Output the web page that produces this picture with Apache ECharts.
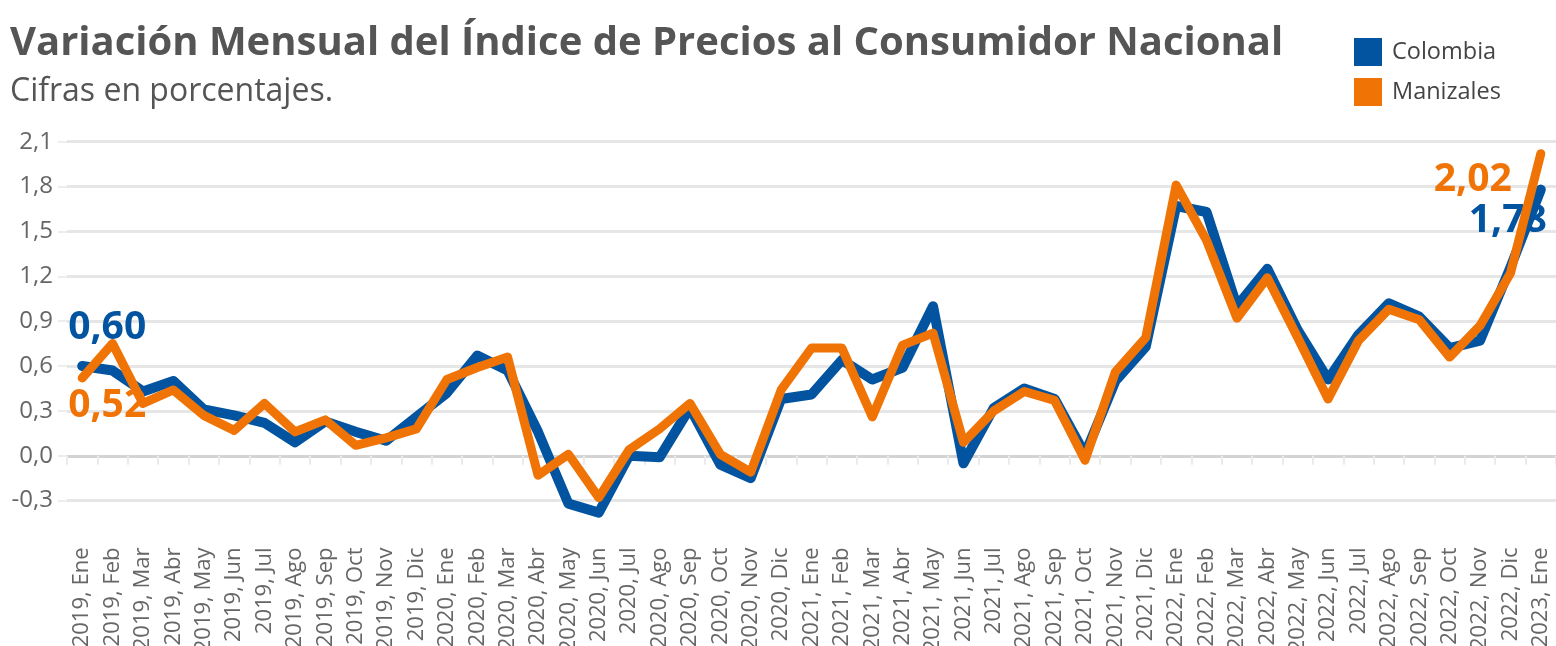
<!DOCTYPE html>
<html>
<head>
<meta charset="utf-8">
<script src="https://cdn.jsdelivr.net/npm/echarts@6/dist/echarts.min.js"></script>
<style>
html,body{margin:0;padding:0;background:#fff;}
#chart{width:1556px;height:646px;}
</style>
</head>
<body>
<div id="chart"></div>
<script>
const categories = [
  "2019, Ene","2019, Feb","2019, Mar","2019, Abr","2019, May","2019, Jun","2019, Jul","2019, Ago","2019, Sep","2019, Oct","2019, Nov","2019, Dic",
  "2020, Ene","2020, Feb","2020, Mar","2020, Abr","2020, May","2020, Jun","2020, Jul","2020, Ago","2020, Sep","2020, Oct","2020, Nov","2020, Dic",
  "2021, Ene","2021, Feb","2021, Mar","2021, Abr","2021, May","2021, Jun","2021, Jul","2021, Ago","2021, Sep","2021, Oct","2021, Nov","2021, Dic",
  "2022, Ene","2022, Feb","2022, Mar","2022, Abr","2022, May","2022, Jun","2022, Jul","2022, Ago","2022, Sep","2022, Oct","2022, Nov","2022, Dic",
  "2023, Ene"
];
const colombia = [
  0.60, 0.57, 0.43, 0.50, 0.31, 0.27, 0.22, 0.09, 0.23, 0.16, 0.10, 0.26,
  0.42, 0.67, 0.57, 0.16, -0.32, -0.38, 0.00, -0.01, 0.32, -0.06, -0.15, 0.38,
  0.41, 0.64, 0.51, 0.59, 1.00, -0.05, 0.32, 0.45, 0.38, 0.01, 0.50, 0.73,
  1.67, 1.63, 1.00, 1.25, 0.84, 0.51, 0.81, 1.02, 0.93, 0.72, 0.77, 1.26,
  1.78
];
const manizales = [
  0.52, 0.75, 0.35, 0.44, 0.27, 0.17, 0.35, 0.16, 0.24, 0.07, 0.12, 0.18,
  0.51, 0.59, 0.66, -0.13, 0.01, -0.28, 0.04, 0.18, 0.35, 0.01, -0.11, 0.44,
  0.72, 0.72, 0.26, 0.74, 0.82, 0.09, 0.30, 0.43, 0.37, -0.03, 0.56, 0.79,
  1.81, 1.44, 0.92, 1.19, 0.79, 0.38, 0.77, 0.98, 0.91, 0.66, 0.87, 1.22,
  2.02
];
const yTicks = [-0.3, 0.0, 0.3, 0.6, 0.9, 1.2, 1.5, 1.8, 2.1];
const seriesNames = ["Colombia", "Manizales"];
const titleText = "Variación Mensual del Índice de Precios al Consumidor Nacional";
const subtitleText = "Cifras en porcentajes.";

const BLUE = "#0254A1";
const ORANGE = "#F07306";
const FONT = "'Open Sans', 'Noto Sans', sans-serif";
const fmt = v => v.toFixed(2).replace('.', ',');
const gridColors = yTicks.map(v => Math.abs(v) < 1e-9 ? '#d3d3d3' : '#e6e6e6');

const chart = echarts.init(document.getElementById('chart'), null, {renderer: 'canvas'});
const last = categories.length - 1;
const option = {
  animation: false,
  backgroundColor: '#fff',
  textStyle: {fontFamily: FONT},
  graphic: [
    {type: 'text', left: 10, top: 24, style: {text: titleText, font: "bold 40px " + FONT, fill: '#555555'}},
    {type: 'text', left: 10, top: 76, style: {text: subtitleText, font: "32px " + FONT, fill: '#555555'}}
  ],
  legend: {
    orient: 'vertical', left: 1354, top: 38, padding: 0,
    itemWidth: 28, itemHeight: 28, itemGap: 12, icon: 'rect',
    data: seriesNames,
    textStyle: {fontSize: 23.5, color: '#444444', fontFamily: FONT, padding: [4, 0, 0, 5]}
  },
  grid: {left: 67, right: 0, top: 141.7, bottom: 100.5, containLabel: false, outerBoundsMode: 'none'},
  xAxis: {
    type: 'category', data: categories, boundaryGap: true, offset: -9,
    axisLine: {show: false},
    axisTick: {show: true, length: 9, lineStyle: {color: '#ebebeb', width: 2}},
    axisLabel: {rotate: 90, margin: 11, fontSize: 22, color: '#666666', fontFamily: FONT, interval: 0}
  },
  yAxis: {
    type: 'value', min: -0.6, max: 2.1, interval: 0.3,
    axisLine: {show: false},
    axisTick: {show: true, length: 9, lineStyle: {color: '#eeeeee', width: 2}},
    axisLabel: {
      showMinLabel: false, margin: 14, fontSize: 24, color: '#666666', fontFamily: FONT,
      formatter: v => yTicks.some(t => Math.abs(t - v) < 1e-6) ? v.toFixed(1).replace('.', ',') : ''
    },
    splitLine: {show: true, showMinLine: false, lineStyle: {color: gridColors, width: 3}}
  },
  series: [
    {
      name: seriesNames[0], type: 'line', data: colombia, color: BLUE, z: 2,
      showSymbol: false, symbol: 'none',
      lineStyle: {color: BLUE, width: 10, cap: 'round', join: 'round'},
      markPoint: {
        z: 2, symbol: 'circle', symbolSize: 1, itemStyle: {color: 'rgba(0,0,0,0)'}, silent: true,
        label: {show: true, position: 'inside', color: BLUE, fontSize: 39, fontWeight: 'bold', fontFamily: FONT, formatter: p => fmt(p.value)},
        data: [
          {coord: [categories[0], colombia[0]], value: colombia[0], label: {offset: [25, -38]}},
          {coord: [categories[last], colombia[last]], value: colombia[last], label: {offset: [-33, 31]}}
        ]
      }
    },
    {
      name: seriesNames[1], type: 'line', data: manizales, color: ORANGE, z: 3,
      showSymbol: false, symbol: 'none',
      lineStyle: {color: ORANGE, width: 9, cap: 'round', join: 'round'},
      markPoint: {
        z: 4, symbol: 'circle', symbolSize: 1, itemStyle: {color: 'rgba(0,0,0,0)'}, silent: true,
        label: {show: true, position: 'inside', color: ORANGE, fontSize: 39, fontWeight: 'bold', fontFamily: FONT, formatter: p => fmt(p.value)},
        data: [
          {coord: [categories[0], manizales[0]], value: manizales[0], label: {offset: [25, 28]}},
          {coord: [categories[last], manizales[last]], value: manizales[last], label: {offset: [-68, 26]}}
        ]
      }
    }
  ]
};
chart.setOption(option);
</script>
</body>
</html>
